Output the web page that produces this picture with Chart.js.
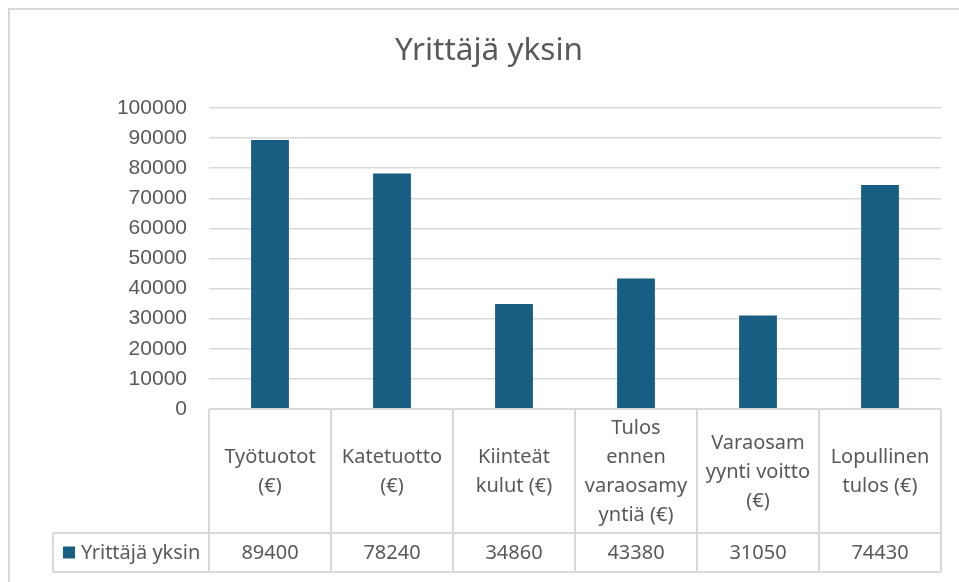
<!DOCTYPE html>
<html>
<head>
<meta charset="utf-8">
<script src="https://cdn.jsdelivr.net/npm/chart.js@4.4.1/dist/chart.umd.min.js"></script>
<style>
  html, body { margin: 0; padding: 0; background: #ffffff; }
  #wrap { width: 959px; height: 582px; }
</style>
</head>
<body>
<div id="wrap"><canvas id="yrittajaChart" width="959" height="582"></canvas></div>
<script>
const chartTitle = 'Yrittäjä yksin';
const seriesName = 'Yrittäjä yksin';
const categoryLines = [
    ['Työtuotot', '(€)'],
    ['Katetuotto', '(€)'],
    ['Kiinteät', 'kulut (€)'],
    ['Tulos', 'ennen', 'varaosamy', 'yntiä (€)'],
    ['Varaosam', 'yynti voitto', '(€)'],
    ['Lopullinen', 'tulos (€)']
];
const seriesValues = [89400, 78240, 34860, 43380, 31050, 74430];
const yTicks = [0, 10000, 20000, 30000, 40000, 50000, 60000, 70000, 80000, 90000, 100000];

const barColor = '#175e82';
const lineColor = '#d9d9d9';
const textColor = '#595959';
const tableFont = '20px "Noto Sans", sans-serif';

// Draws the title, outer border and the Excel style data table below the plot
const dataTablePlugin = {
    id: 'dataTable',
    beforeDraw(chart) {
        const ctx = chart.ctx;
        ctx.save();
        // outer chart border
        ctx.strokeStyle = lineColor;
        ctx.lineWidth = 2;
        ctx.strokeRect(9, 9, 980, 600);
        // title, centred on the chart frame like in Excel
        ctx.fillStyle = textColor;
        ctx.font = '31.5px "Noto Sans", sans-serif';
        ctx.textAlign = 'center';
        ctx.textBaseline = 'middle';
        ctx.fillText(chartTitle, 489, 51);
        ctx.restore();
    },
    afterDraw(chart) {
        const ctx = chart.ctx;
        const xScale = chart.scales.x;
        const area = chart.chartArea;
        const colW = (area.right - area.left) / categoryLines.length;
        const top = area.bottom;
        const row1 = top + 124;
        const row2 = row1 + 39;
        const legendLeft = 53;

        ctx.save();
        ctx.strokeStyle = lineColor;
        ctx.lineWidth = 2;
        ctx.beginPath();
        ctx.moveTo(area.left, top); ctx.lineTo(area.right, top);
        ctx.moveTo(legendLeft, row1); ctx.lineTo(area.right, row1);
        ctx.moveTo(legendLeft, row2); ctx.lineTo(area.right, row2);
        ctx.moveTo(legendLeft, row1); ctx.lineTo(legendLeft, row2);
        for (let i = 0; i <= categoryLines.length; i++) {
            const x = area.left + i * colW;
            ctx.moveTo(x, top); ctx.lineTo(x, row2);
        }
        ctx.stroke();

        ctx.fillStyle = textColor;
        ctx.font = tableFont;
        ctx.textAlign = 'center';
        ctx.textBaseline = 'middle';
        const lineH = 29;
        categoryLines.forEach((lines, i) => {
            const cx = xScale.getPixelForValue(i);
            const mid = (top + row1) / 2 + 1;
            const start = mid - (lines.length - 1) * lineH / 2;
            lines.forEach((ln, j) => ctx.fillText(ln, cx, start + j * lineH));
            ctx.fillText(String(seriesValues[i]), cx, (row1 + row2) / 2 + 1);
        });

        // legend key in the table
        ctx.fillStyle = barColor;
        ctx.fillRect(63, (row1 + row2) / 2 - 6, 12, 12);
        ctx.fillStyle = textColor;
        ctx.textAlign = 'left';
        ctx.fillText(seriesName, 81, (row1 + row2) / 2 + 1);
        ctx.restore();
    }
};

const ctx = document.getElementById('yrittajaChart').getContext('2d');
new Chart(ctx, {
    type: 'bar',
    data: {
        labels: categoryLines,
        datasets: [{
            label: seriesName,
            data: seriesValues,
            backgroundColor: barColor,
            borderWidth: 0,
            categoryPercentage: 1,
            barPercentage: 0.31
        }]
    },
    options: {
        responsive: false,
        animation: false,
        layout: { padding: { left: 0, right: 18, top: 108, bottom: 173 } },
        plugins: {
            legend: { display: false },
            tooltip: { enabled: false },
            title: { display: false }
        },
        scales: {
            x: { display: false },
            y: {
                min: 0,
                max: 100000,
                afterFit(scale) { scale.width = 209; },
                afterBuildTicks(scale) { scale.ticks = yTicks.map(v => ({ value: v })); },
                border: { display: false },
                grid: { color: lineColor, lineWidth: 1.5, drawTicks: false },
                ticks: {
                    color: textColor,
                    padding: 22,
                    font: { family: '"Liberation Sans", sans-serif', size: 21 },
                    callback: (value) => String(value)
                }
            }
        }
    },
    plugins: [dataTablePlugin]
});
</script>
</body>
</html>
